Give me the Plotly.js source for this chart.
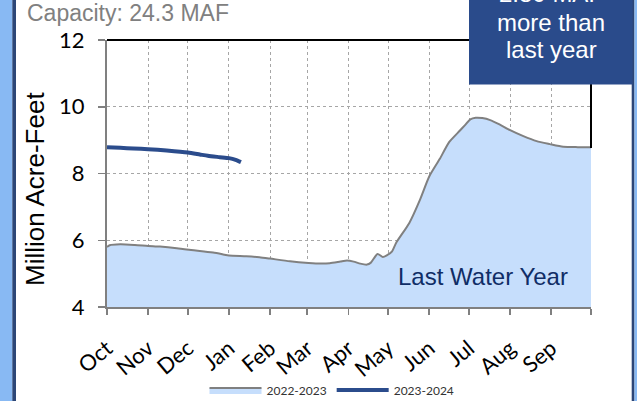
<!DOCTYPE html>
<html>
<head>
<meta charset="utf-8">
<script src="https://cdn.plot.ly/plotly-3.0.1.min.js"></script>
<style>html,body{margin:0;padding:0;background:#fff;}#chart{width:637px;height:401px;}</style>
</head>
<body>
<div id="chart"></div>
<script>
// Day of water year (0 = Oct 1)
const monthLabels = ['Oct','Nov','Dec','Jan','Feb','Mar','Apr','May','Jun','Jul','Aug','Sep'];
const monthStartDays = [0,31,61,92,123,151,182,212,243,273,304,335,365];

const lastYearDays = [0,2,10,21,31,40,51,60,70,80,87,92,105,115,123,138,152,161,168,176,181,186,191,196,199,204,208,211,215,218,228,236,243,251,258,266,270,274,278,283,289,296,304,314,324,334,344,355,365];
const lastYearValues = [5.80,5.85,5.88,5.86,5.83,5.81,5.77,5.72,5.68,5.63,5.58,5.54,5.52,5.49,5.45,5.37,5.32,5.30,5.31,5.36,5.39,5.36,5.30,5.27,5.33,5.59,5.50,5.55,5.67,5.92,6.52,7.21,7.91,8.44,8.94,9.28,9.45,9.62,9.67,9.66,9.60,9.47,9.30,9.12,8.97,8.88,8.80,8.79,8.79];

const thisYearDays = [0,10,20,31,45,61,70,76,85,92,97,101];
const thisYearValues = [8.79,8.77,8.75,8.73,8.69,8.63,8.57,8.53,8.49,8.46,8.41,8.34];

const seriesNames = ['2022-2023','2023-2024'];

// layout geometry helpers (pixel -> paper)
const W = 637, H = 401, L = 107, R = 46, T = 40, B = 94;
const PW = W - L - R, PH = H - T - B;
const px = x => (x - L) / PW;
const py = y => (H - B - y) / PH;

const traces = [
  {
    x: lastYearDays, y: lastYearValues, name: seriesNames[0],
    type: 'scatter', mode: 'lines', fill: 'tozeroy',
    fillcolor: '#c6defc', line: {color: '#808080', width: 2, shape: 'spline', smoothing: 0.6}
  },
  {
    x: thisYearDays, y: thisYearValues, name: seriesNames[1],
    type: 'scatter', mode: 'lines',
    line: {color: '#2b4c8c', width: 4, shape: 'spline', smoothing: 0.6}
  }
];

const layout = {
  width: W, height: H,
  margin: {l: L, r: R, t: T, b: B, pad: 0, autoexpand: false},
  paper_bgcolor: '#ffffff', plot_bgcolor: '#ffffff',
  showlegend: true,
  legend: {
    orientation: 'h', xref: 'container', yref: 'container',
    x: 332 / W, xanchor: 'center', y: 1 - 390 / H, yanchor: 'middle',
    font: {family: 'Lato, sans-serif', size: 12, color: '#333'},
    itemwidth: 52, bgcolor: 'rgba(0,0,0,0)'
  },
  xaxis: {
    range: [0, 365], tickmode: 'array', automargin: false,
    tickvals: monthStartDays, ticktext: monthLabels.concat(['']),
    tickangle: -40, ticks: 'outside', ticklen: 6, tickcolor: '#808080', tickwidth: 1.5,
    showline: true, linecolor: '#808080', linewidth: 2,
    showgrid: true, gridcolor: '#a6a6a6', griddash: 'dot', gridwidth: 1,
    zeroline: false, ticklabelstandoff: 12,
    tickfont: {family: 'Lato, sans-serif', size: 22, color: '#000'}
  },
  yaxis: {
    range: [4, 12], tickmode: 'array', tickvals: [4,6,8,10,12], automargin: false,
    ticks: 'outside', ticklen: 7, tickcolor: '#808080', tickwidth: 1.5,
    showline: true, linecolor: '#808080', linewidth: 2,
    showgrid: true, gridcolor: '#a6a6a6', griddash: 'dot', gridwidth: 1,
    zeroline: false, ticklabelstandoff: 9,
    tickfont: {family: 'Lato, sans-serif', size: 22, color: '#000'}
  },
  shapes: [
    {type: 'line', xref: 'paper', yref: 'paper', x0: 0, x1: 1, y0: 1, y1: 1, line: {color: '#000', width: 2}},
    {type: 'line', xref: 'paper', yref: 'paper', x0: 1, x1: 1, y0: py(148), y1: 1, line: {color: '#000', width: 2}},
    {type: 'rect', xref: 'paper', yref: 'paper', x0: px(0), x1: px(12.3), y0: py(H), y1: py(0), line: {width: 0}, fillcolor: '#88b9f3', layer: 'above'},
    {type: 'rect', xref: 'paper', yref: 'paper', x0: px(12.3), x1: px(16), y0: py(H), y1: py(0), line: {width: 0}, fillcolor: '#2c4677', layer: 'above'},
    {type: 'rect', xref: 'paper', yref: 'paper', x0: px(631.7), x1: px(634.5), y0: py(H), y1: py(0), line: {width: 0}, fillcolor: '#2c4677', layer: 'above'},
    {type: 'rect', xref: 'paper', yref: 'paper', x0: px(634.5), x1: px(W), y0: py(H), y1: py(0), line: {width: 0}, fillcolor: '#88b9f3', layer: 'above'},
    {type: 'rect', xref: 'paper', yref: 'paper', x0: px(469), x1: px(632.5), y0: py(84.5), y1: py(0), line: {width: 0}, fillcolor: '#2a4b8b', layer: 'above'}
  ],
  annotations: [
    {xref: 'paper', yref: 'paper', x: px(25), y: py(13), xanchor: 'left', yanchor: 'middle', showarrow: false,
     text: 'Capacity: 24.3 MAF', font: {family: 'Arial, Liberation Sans, sans-serif', size: 23, color: '#808080'}},
    {xref: 'paper', yref: 'paper', x: px(35), y: py(189), xanchor: 'center', yanchor: 'middle', showarrow: false, textangle: -90,
     text: 'Million Acre-Feet', font: {family: 'Arial, Liberation Sans, sans-serif', size: 26, color: '#000'}},
    {xref: 'paper', yref: 'paper', x: px(483), y: py(276), xanchor: 'center', yanchor: 'middle', showarrow: false,
     text: 'Last Water Year', font: {family: 'Arial, Liberation Sans, sans-serif', size: 24, color: '#102d66'}},
    {xref: 'paper', yref: 'paper', x: px(551), y: py(-7), xanchor: 'center', yanchor: 'middle', showarrow: false,
     text: '2.80 MAF', font: {family: 'Arial, Liberation Sans, sans-serif', size: 24, color: '#ffffff'}},
    {xref: 'paper', yref: 'paper', x: px(551), y: py(22), xanchor: 'center', yanchor: 'middle', showarrow: false,
     text: 'more than', font: {family: 'Arial, Liberation Sans, sans-serif', size: 24, color: '#ffffff'}},
    {xref: 'paper', yref: 'paper', x: px(551), y: py(50), xanchor: 'center', yanchor: 'middle', showarrow: false,
     text: 'last year', font: {family: 'Arial, Liberation Sans, sans-serif', size: 24, color: '#ffffff'}}
  ]
};

Plotly.newPlot('chart', traces, layout, {staticPlot: true, displayModeBar: false});
</script>
</body>
</html>
